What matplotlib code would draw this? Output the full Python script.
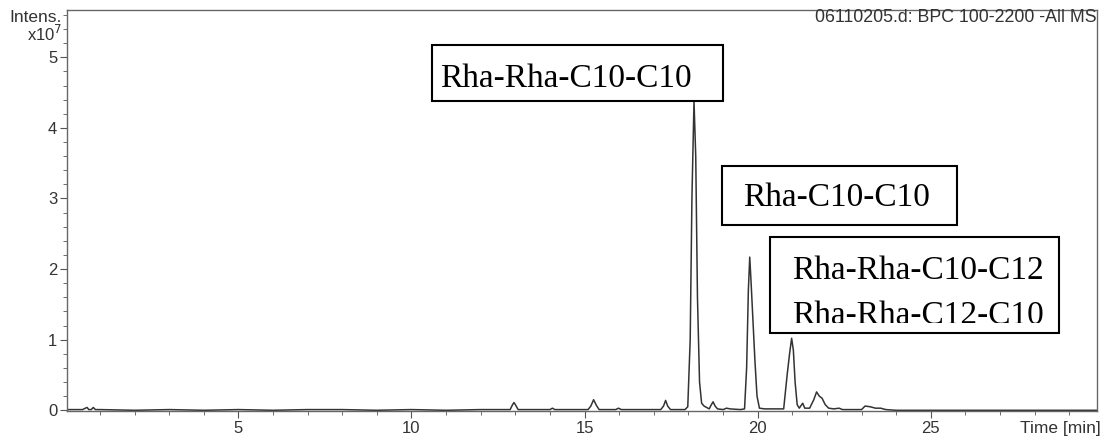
import matplotlib.pyplot as plt
from matplotlib.patches import Rectangle
from matplotlib.ticker import MultipleLocator

# chromatogram points (time in min, intensity in 1e7)
time = [0.0, 0.5, 0.58, 0.63, 0.68, 0.75, 0.81, 0.87, 1.0, 2.0, 3.0, 4.0, 5.0,
        6.0, 7.0, 8.0, 9.0, 10.0, 11.0, 12.0, 12.85, 12.92, 12.96, 13.0, 13.08,
        13.5, 14.0, 14.07, 14.14, 14.6, 15.1, 15.18, 15.26, 15.34, 15.42, 15.9,
        15.98, 16.06, 16.6, 17.2, 17.28, 17.34, 17.4, 17.48, 17.9, 17.98, 18.05,
        18.1, 18.16, 18.21, 18.26, 18.32, 18.38, 18.45, 18.6, 18.65, 18.71,
        18.77, 18.84, 19.0, 19.1, 19.2, 19.5, 19.62, 19.68, 19.73, 19.77, 19.81,
        19.86, 19.92, 19.98, 20.05, 20.2, 20.5, 20.75, 20.85, 20.92, 20.98,
        21.03, 21.08, 21.14, 21.2, 21.3, 21.36, 21.5, 21.62, 21.7, 21.78, 21.86,
        21.95, 22.05, 22.2, 22.35, 22.45, 22.6, 22.9, 23.0, 23.1, 23.25, 23.4,
        23.55, 23.7, 24.0, 25.0, 26.0, 27.0, 28.0, 29.0, 29.8]
intens = [0.01, 0.01, 0.03, 0.04, 0.01, 0.01, 0.04, 0.01, 0.01, 0.0, 0.01, 0.0,
          0.01, 0.0, 0.01, 0.01, 0.0, 0.01, 0.0, 0.01, 0.01, 0.08, 0.11, 0.08,
          0.01, 0.01, 0.01, 0.03, 0.01, 0.01, 0.01, 0.06, 0.15, 0.07, 0.01,
          0.01, 0.03, 0.01, 0.01, 0.01, 0.06, 0.14, 0.06, 0.01, 0.01, 0.05,
          1.0, 3.0, 4.38, 3.6, 1.6, 0.4, 0.1, 0.06, 0.02, 0.07, 0.12, 0.06,
          0.02, 0.01, 0.03, 0.02, 0.01, 0.02, 0.6, 1.7, 2.17, 1.8, 1.3, 0.7,
          0.2, 0.03, 0.02, 0.02, 0.02, 0.5, 0.8, 1.02, 0.85, 0.4, 0.08, 0.03,
          0.1, 0.03, 0.03, 0.15, 0.26, 0.2, 0.17, 0.08, 0.03, 0.02, 0.03, 0.01,
          0.01, 0.01, 0.01, 0.06, 0.05, 0.03, 0.03, 0.01, 0.0, 0.0, 0.0, 0.0,
          0.0, 0.0, 0.0]

W, H = 1104, 441


def px(x, y):
    return x / W, 1 - y / H


fig = plt.figure(figsize=(11.04, 4.41), dpi=100)
ax = fig.add_axes([67 / W, 1 - 411 / H, (1097 - 67) / W, (411 - 10) / H])
ax.plot(time, intens, color="#333333", lw=1.1)
ax.set_xlim(0.05, 29.8)
ax.set_ylim(-0.01, 5.67)

ax.xaxis.set_major_locator(MultipleLocator(5))
ax.xaxis.set_minor_locator(MultipleLocator(1))
ax.yaxis.set_major_locator(MultipleLocator(1))
ax.yaxis.set_minor_locator(MultipleLocator(0.2))
ax.tick_params(which="major", length=5, color="#555555", labelsize=12,
               labelcolor="#333333", pad=2)
ax.tick_params(which="minor", length=3, color="#555555")
for s in ax.spines.values():
    s.set_color("#666666")
    s.set_linewidth(1.0)
for lab in ax.get_xticklabels() + ax.get_yticklabels():
    lab.set_family("Liberation Sans")

sans = "Liberation Sans"
fig.text(*px(62, 17), "Intens.", ha="right", va="center", fontsize=12.5,
         family=sans, color="#333333")
fig.text(*px(62, 34), "x10$^7$", ha="right", va="center", fontsize=12,
         family=sans, color="#333333")
fig.text(*px(1097, 17), "06110205.d: BPC 100-2200 -All MS", ha="right",
         va="center", fontsize=12.8, family=sans, color="#333333")
fig.text(*px(1101, 428), "Time [min]", ha="right", va="center", fontsize=12.5,
         family=sans, color="#333333")

serif = "Liberation Serif"
boxes = [(432, 45, 723, 101), (722, 166, 957, 225), (770, 237, 1059, 333)]
for x0, y0, x1, y1 in boxes:
    fig.patches.append(Rectangle(px(x0, y1), (x1 - x0) / W, (y1 - y0) / H,
                                 transform=fig.transFigure, fc="white",
                                 ec="black", lw=1.5, zorder=5))

fig.text(*px(440, 79), "Rha-Rha-C10-C10", ha="left", va="center",
         fontsize=24, family=serif, zorder=6)
fig.text(*px(743, 198), "Rha-C10-C10", ha="left", va="center",
         fontsize=24, family=serif, zorder=6)
fig.text(*px(792, 271), "Rha-Rha-C10-C12", ha="left", va="center",
         fontsize=24, family=serif, zorder=6)
t = fig.text(*px(792, 316), "Rha-Rha-C12-C10", ha="left", va="center",
             fontsize=24, family=serif, zorder=6)
clip = Rectangle(px(771, 323), (1058 - 771) / W, (323 - 238) / H,
                 transform=fig.transFigure)
t.set_clip_path(clip)

fig.savefig("out.png", dpi=100)
